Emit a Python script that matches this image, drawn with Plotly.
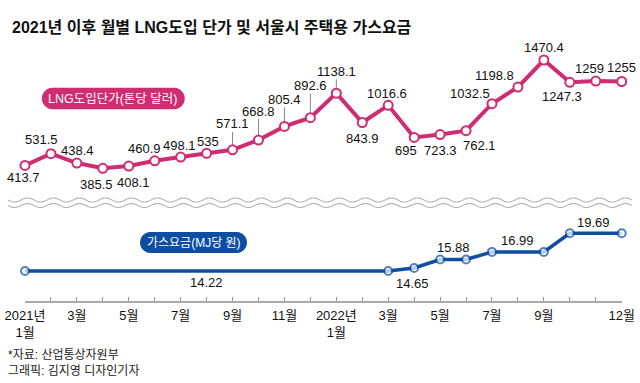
import numpy as np
import plotly.graph_objects as go

W, H = 640, 383

# ---------------- data ----------------
month_idx = list(range(24))
tick_text = ["2021년<br>1월", "", "3월", "", "5월", "", "7월", "", "9월", "", "11월", "",
             "2022년<br>1월", "", "3월", "", "5월", "", "7월", "", "9월", "", "", "12월"]
lng_price = [413.7, 531.5, 438.4, 385.5, 408.1, 460.9, 498.1, 535, 571.1, 668.8, 805.4, 892.6,
             1138.1, 843.9, 1016.6, 695, 723.3, 762.1, 1032.5, 1198.8, 1470.4, 1247.3, 1259, 1255]
gas_rate = [14.22, 14.22, 14.22, 14.22, 14.22, 14.22, 14.22, 14.22, 14.22, 14.22, 14.22, 14.22,
            14.22, 14.22, 14.22, 14.65, 15.88, 15.88, 16.99, 16.99, 16.99, 19.69, 19.69, 19.69]
gas_marked = [1, 0, 0, 0, 0, 0, 0, 0, 0, 0, 0, 0,
              0, 0, 1, 1, 1, 1, 1, 0, 1, 1, 0, 1]
gas_label_idx = [7, 15, 16, 19, 22]

title = "2021년 이후 월별 LNG도입 단가 및 서울시 주택용 가스요금"
lng_name = "LNG도입단가(톤당 달러)"
gas_name = "가스요금(MJ당 원)"
source = "*자료: 산업통상자원부"
credit = "그래픽: 김지영 디자인기자"

# ---------------- style ----------------
PINK = "#cf2c72"
BLUE = "#0d4ea3"
NUM_FONT = "Liberation Sans, Noto Sans CJK KR, sans-serif"
KR_FONT = "Liberation Sans, Noto Sans CJK KR, sans-serif"

# label offsets in px (dx, dy up), leader flag
lng_off = [(-2, -12.5), (-9, 14), (1, 13), (-6, -16), (4.5, -16), (-10.5, 12.2), (-1.5, 11.3), (1.7, 11.7),
           (0, 25.8), (0, 29), (0, 27), (0, 32), (0, 22), (0, -15.5), (-1.5, 12), (-8, -13),
           (0, -15.7), (13, -15), (-22, 10), (-23, 12), (0, 12.5), (-7.5, -14), (-6, 13), (0, 14)]
lng_leader = [0, 0, 0, 0, 0, 0, 0, 0, 1, 1, 1, 1, 1, 0, 0, 0, 0, 0, 0, 0, 0, 0, 0, 0]
gas_off = [(0, -12), (-2, -15), (13, 12), (0, 11), (-2, 11)]

def py(p):  # pixel y -> paper
    return 1 - p / H

def px(p):
    return p / W

fig = go.Figure()
fig.add_trace(go.Scatter(
    x=month_idx, y=lng_price, mode="lines+markers", yaxis="y", cliponaxis=False,
    line=dict(color=PINK, width=4),
    marker=dict(size=9, color="white", line=dict(color=PINK, width=2)),
    hoverinfo="skip"))
fig.add_trace(go.Scatter(
    x=month_idx, y=gas_rate, mode="lines+markers", yaxis="y2", cliponaxis=False,
    line=dict(color=BLUE, width=3.5),
    marker=dict(size=[8 if m else 0 for m in gas_marked], color="white",
                line=dict(color=BLUE, width=[2 if m else 0 for m in gas_marked])),
    hoverinfo="skip"))

annotations = []
for i, v in enumerate(lng_price):
    dx, dy = lng_off[i]
    if lng_leader[i]:
        annotations.append(dict(x=month_idx[i], y=v, xref="x", yref="y", text=f"{v:g}",
                                showarrow=True, arrowhead=0, arrowwidth=0.8, arrowcolor="#666",
                                ax=dx, ay=-dy, standoff=4.5, borderpad=0,
                                font=dict(family=NUM_FONT, size=13, color="#111")))
    else:
        annotations.append(dict(x=month_idx[i], y=v, xref="x", yref="y", text=f"{v:g}",
                                showarrow=False, xshift=dx, yshift=dy,
                                font=dict(family=NUM_FONT, size=13, color="#111")))
for k, i in enumerate(gas_label_idx):
    dx, dy = gas_off[k]
    annotations.append(dict(x=month_idx[i], y=gas_rate[i], xref="x", yref="y2",
                            text=f"{gas_rate[i]:g}", showarrow=False, xshift=dx, yshift=dy,
                            font=dict(family=NUM_FONT, size=13, color="#111")))

# title & footer
annotations.append(dict(x=px(10), y=py(27.5), xref="paper", yref="paper", xanchor="left",
                        yanchor="middle", showarrow=False, text=f"<b>{title}</b>",
                        font=dict(family=KR_FONT, size=16, color="#111")))
annotations.append(dict(x=px(6), y=py(355), xref="paper", yref="paper", xanchor="left",
                        yanchor="middle", showarrow=False, text=source,
                        font=dict(family=KR_FONT, size=12, color="#222")))
annotations.append(dict(x=px(6), y=py(370.5), xref="paper", yref="paper", xanchor="left",
                        yanchor="middle", showarrow=False, text=credit,
                        font=dict(family=KR_FONT, size=12, color="#222")))

# legend pills (polygon made of straight segments)
shapes = []
def pill(cx, cy, w, h, color):
    r = h / 2
    xl, xr = cx - w / 2 + r, cx + w / 2 - r
    pts = []
    for a in np.linspace(-np.pi / 2, np.pi / 2, 13):
        pts.append((xr + r * np.cos(a), cy + r * np.sin(a)))
    for a in np.linspace(np.pi / 2, 3 * np.pi / 2, 13):
        pts.append((xl + r * np.cos(a), cy + r * np.sin(a)))
    path = "M " + " L ".join(f"{px(a):.5f},{py(b):.5f}" for a, b in pts) + " Z"
    shapes.append(dict(type="path", path=path, xref="paper", yref="paper",
                       fillcolor=color, line=dict(width=0), layer="below"))

pill(113.3, 98.5, 143, 21.5, PINK)
pill(193.5, 242.5, 107, 21, BLUE)
annotations.append(dict(x=px(113.3), y=py(98.5), xref="paper", yref="paper", showarrow=False,
                        xanchor="center", yanchor="middle",
                        text=lng_name, font=dict(family=KR_FONT, size=12.5, color="white")))
annotations.append(dict(x=px(193.5), y=py(242.5), xref="paper", yref="paper", showarrow=False,
                        xanchor="center", yanchor="middle",
                        text=gas_name, font=dict(family=KR_FONT, size=12, color="white")))

# wavy break lines
xs = np.arange(8, 633, 1.0)
for base in (200.0, 205.5):
    ys = base + 2.0 * np.sin(2 * np.pi * (xs - 8) / 26.0)
    path = "M " + " L ".join(f"{px(a):.5f},{py(b):.5f}" for a, b in zip(xs, ys))
    shapes.append(dict(type="path", path=path, xref="paper", yref="paper",
                       line=dict(color="#b3b3b3", width=1.1)))

fig.update_layout(
    template="none",
    width=W, height=H, margin=dict(l=0, r=0, t=0, b=0, pad=0, autoexpand=False),
    paper_bgcolor="white", plot_bgcolor="rgba(0,0,0,0)", showlegend=False,
    xaxis=dict(domain=[px(25), px(621.7)], range=[0, 23], anchor="y2", automargin=False,
               tickmode="array", tickvals=month_idx, ticktext=tick_text,
               ticks="inside", ticklen=4, tickwidth=1, tickcolor="#999",
               showline=True, linecolor="#aaa", linewidth=1.5, showgrid=False, zeroline=False,
               tickfont=dict(family=KR_FONT, size=13, color="#111"), ticklabelstandoff=2),
    yaxis=dict(domain=[py(200), py(40)], range=[67.9, 1670.8], visible=False, automargin=False),
    yaxis2=dict(domain=[py(301), py(210)], range=[9.866, 23.07], visible=False, automargin=False),
    annotations=annotations, shapes=shapes,
)

fig.write_html("out.html", config={"displayModeBar": False},
               post_script="document.body.style.margin='0';document.body.style.padding='0';")
